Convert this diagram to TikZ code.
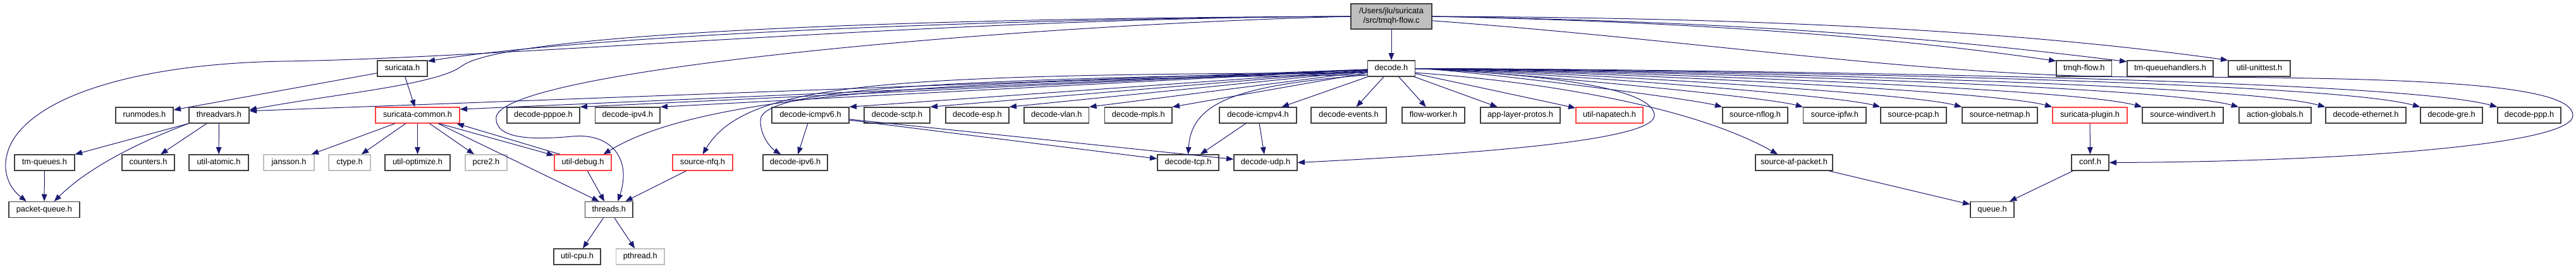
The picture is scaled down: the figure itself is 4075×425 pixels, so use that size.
\documentclass[tikz,border=0pt]{standalone}
\usepackage{fontspec}
\setmainfont{Liberation Sans}
\usepackage{tikz}
\usetikzlibrary{arrows.meta}
\definecolor{depblue}{HTML}{191970}
\definecolor{boxgray}{HTML}{404040}
\definecolor{boxred}{HTML}{FF4040}
\definecolor{boxlight}{HTML}{BFBFBF}
\tikzset{
  hdr/.style={rectangle, draw=boxgray, line width=1pt, fill=white, font=\fontsize{9.6pt}{11.25pt}\selectfont, inner xsep=1pt, inner ysep=0pt, minimum height=18.75pt, text height=7pt, text depth=2pt},
  redhdr/.style={hdr, draw=boxred},
  syshdr/.style={hdr, draw=boxlight},
  srcfile/.style={rectangle, draw=boxgray, line width=1pt, fill=boxlight, align=center, font=\fontsize{9.6pt}{11.25pt}\selectfont, inner sep=1pt, minimum height=30pt}
}

\begin{document}
\begin{tikzpicture}[
    x=0.75pt, y=-0.75pt,
    dep/.style={-{Triangle[length=8.5pt, width=6.5pt]}, draw=depblue, line width=0.75pt}
  ]
    \useasboundingbox (0,0) rectangle (4075,425);

    \node[srcfile, minimum width=96pt] (tmqhc) at (2201, 26) {/Users/jlu/suricata\\/src/tmqh-flow.c};

    \node[hdr, minimum width=59.3pt] (suricata) at (636.5, 108.5) {suricata.h};
    \node[hdr, minimum width=55.9pt] (decode) at (2201, 108.5) {decode.h};
    \node[hdr, minimum width=65.6pt] (tmqhflow) at (3296.8, 108.5) {tmqh-flow.h};
    \node[hdr, minimum width=102pt] (tmqueue) at (3433, 108.5) {tm-queuehandlers.h};
    \node[hdr, minimum width=73.5pt] (unittest) at (3574, 108.5) {util-unittest.h};

    \node[hdr, minimum width=68.3pt] (runmodes) at (228.5, 182.5) {runmodes.h};
    \node[hdr, minimum width=71.3pt] (threadvars) at (346.5, 182.5) {threadvars.h};
    \node[redhdr, minimum width=99.8pt] (common) at (660.5, 182.5) {suricata-common.h};
    \node[hdr, minimum width=86.3pt] (pppoe) at (859.5, 182.5) {decode-pppoe.h};
    \node[hdr, minimum width=76.9pt] (ipv4) at (992.8, 182.5) {decode-ipv4.h};
    \node[hdr, minimum width=91.5pt] (icmpv6) at (1282, 182.5) {decode-icmpv6.h};
    \node[hdr, minimum width=78pt] (sctp) at (1419, 182.5) {decode-sctp.h};
    \node[hdr, minimum width=75pt] (esp) at (1546, 182.5) {decode-esp.h};
    \node[hdr, minimum width=76.9pt] (vlan) at (1671.3, 182.5) {decode-vlan.h};
    \node[hdr, minimum width=79.9pt] (mpls) at (1800.8, 182.5) {decode-mpls.h};
    \node[hdr, minimum width=91.5pt] (icmpv4) at (1990, 182.5) {decode-icmpv4.h};
    \node[hdr, minimum width=89.3pt] (events) at (2133.5, 182.5) {decode-events.h};
    \node[hdr, minimum width=74.3pt] (flowworker) at (2267.5, 182.5) {flow-worker.h};
    \node[hdr, minimum width=94.5pt] (applayer) at (2405, 182.5) {app-layer-protos.h};
    \node[redhdr, minimum width=79.5pt] (napatech) at (2546, 182.5) {util-napatech.h};
    \node[hdr, minimum width=77.3pt] (nflog) at (2776.5, 182.5) {source-nflog.h};
    \node[hdr, minimum width=74.3pt] (ipfw) at (2902.3, 182.5) {source-ipfw.h};
    \node[hdr, minimum width=78pt] (pcap) at (3027, 182.5) {source-pcap.h};
    \node[hdr, minimum width=89.3pt] (netmap) at (3163.5, 182.5) {source-netmap.h};
    \node[redhdr, minimum width=88.5pt] (plugin) at (3306, 182.5) {suricata-plugin.h};
    \node[hdr, minimum width=96pt] (windivert) at (3453, 182.5) {source-windivert.h};
    \node[hdr, minimum width=85.5pt] (actglobals) at (3598.8, 182.5) {action-globals.h};
    \node[hdr, minimum width=95.3pt] (ethernet) at (3742.5, 182.5) {decode-ethernet.h};
    \node[hdr, minimum width=73.5pt] (gre) at (3878, 182.5) {decode-gre.h};
    \node[hdr, minimum width=75pt] (ppp) at (4001, 182.5) {decode-ppp.h};

    \node[hdr, minimum width=71.3pt] (tmqueues) at (70.5, 257.5) {tm-queues.h};
    \node[hdr, minimum width=62.3pt] (counters) at (234.5, 257.5) {counters.h};
    \node[hdr, minimum width=70.5pt] (atomic) at (346, 257.5) {util-atomic.h};
    \node[syshdr, minimum width=60pt] (jansson) at (457, 257.5) {jansson.h};
    \node[syshdr, minimum width=49.5pt] (ctype) at (553, 257.5) {ctype.h};
    \node[hdr, minimum width=77.3pt] (optimize) at (660.5, 257.5) {util-optimize.h};
    \node[syshdr, minimum width=49.5pt] (pcre) at (769, 257.5) {pcre2.h};
    \node[redhdr, minimum width=67.5pt] (debug) at (922, 257.5) {util-debug.h};
    \node[redhdr, minimum width=71.3pt] (nfq) at (1111.5, 257.5) {source-nfq.h};
    \node[hdr, minimum width=76.5pt] (ipv6) at (1258, 257.5) {decode-ipv6.h};
    \node[hdr, minimum width=72.8pt] (tcp) at (1879.5, 257.5) {decode-tcp.h};
    \node[hdr, minimum width=75pt] (udp) at (2002, 257.5) {decode-udp.h};
    \node[hdr, minimum width=91.5pt] (afpacket) at (2838, 257.5) {source-af-packet.h};
    \node[hdr, minimum width=44.3pt] (conf) at (3306.5, 257.5) {conf.h};

    \node[hdr, minimum width=84pt] (pktqueue) at (70, 332) {packet-queue.h};
    \node[hdr, minimum width=56.6pt] (threads) at (963.3, 332) {threads.h};
    \node[hdr, minimum width=51.8pt] (queue) at (3151.5, 332) {queue.h};

    \node[hdr, minimum width=55.5pt] (cpu) at (913, 406.5) {util-cpu.h};
    \node[syshdr, minimum width=57.4pt] (pthread) at (1012.8, 406.5) {pthread.h};

    \draw[dep] (tmqhc) -- (decode);
    \draw[dep] (tmqhc.west) .. controls (1500,30) and (900,60) .. (suricata.16);
    \draw[dep] (tmqhc.west) .. controls (1500,28) and (800,50) .. (730,105) .. controls (690,135) and (520,150) .. (threadvars.10);
    \draw[dep] (tmqhc.west) .. controls (1500,28) and (800,92) .. (450,97) .. controls (250,100) and (80,140) .. (25,215) .. controls (0,250) and (5,290) .. (pktqueue.155);
    \draw[dep] (tmqhc.west) .. controls (1600,40) and (800,110) .. (785,185) .. controls (782,220) and (840,222) .. (905,216) .. controls (965,210) and (1000,250) .. (threads.43);
    \draw[dep] (tmqhc.east) .. controls (2700,35) and (3000,60) .. (tmqhflow.165);
    \draw[dep] (tmqhc.east) .. controls (2800,35) and (3100,65) .. (tmqueue.171);
    \draw[dep] (tmqhc.east) .. controls (2800,28) and (3200,50) .. (unittest.north west);
    \draw[dep] (tmqhc.-6) .. controls (2700,65) and (3050,122) .. (3400,122) .. controls (3850,122) and (4070,135) .. (4070,183) .. controls (4070,230) and (3700,256) .. (conf.east);

    \draw[dep] (decode) -- (threadvars.8);
    \draw[dep] (decode) -- (common.8);
    \foreach \dst in {pppoe, ipv4, icmpv6, sctp, esp, vlan, mpls}
      \draw[dep] (decode) -- (\dst.north east);
    \foreach \dst in {icmpv4, events, flowworker, applayer, napatech}
      \draw[dep] (decode) -- (\dst);
    \foreach \dst/\xx in {nflog/2725, ipfw/2852.6, pcap/2975, netmap/3104, plugin/3247, windivert/3389, actglobals/3541.6, ethernet/3679, gre/3829, ppp/3951}
      \draw[dep] (decode.east) .. controls ({2238+0.12*(\xx-2238)},108.5) and ({\xx-0.11*(\xx-2238)},{170-0.03*(\xx-2238)}) .. (\dst.north west);
    \draw[dep] (decode.195) .. controls (1450,125) and (1100,155) .. (debug.22);
    \draw[dep] (decode.190) .. controls (1400,118) and (1180,130) .. (nfq.north);
    \draw[dep] (decode.190) .. controls (1500,125) and (1205,140) .. (1203,190) .. controls (1202,215) and (1220,235) .. (ipv6.150);
    \draw[dep] (decode.195) .. controls (1960,135) and (1885,160) .. (tcp.north);
    \draw[dep] (decode.east) .. controls (2450,118) and (2617,140) .. (2617,183) .. controls (2617,225) and (2300,245) .. (udp.east);
    \draw[dep] (decode.-10) .. controls (2450,130) and (2680,170) .. (afpacket.153);

    \draw[dep] (suricata) -- (runmodes);
    \draw[dep] (suricata) -- (common);
    \foreach \dst in {tmqueues, counters, atomic}
      \draw[dep] (threadvars) -- (\dst);
    \draw[dep] (threadvars.south west) .. controls (220,225) and (140,265) .. (pktqueue.40);
    \draw[dep] (tmqueues) -- (pktqueue);
    \foreach \dst in {jansson, ctype, optimize, pcre}
      \draw[dep] (common) -- (\dst);
    \draw[dep] (common.-22) -- (threads.140);
    \draw[dep] (common.-21) -- (debug.166);
    \draw[dep] (debug.160) -- (common.-12.5);
    \draw[dep] (debug) -- (threads);
    \draw[dep] (nfq) -- (threads);
    \foreach \dst in {cpu, pthread}
      \draw[dep] (threads) -- (\dst);
    \foreach \dst in {ipv6, tcp, udp}
      \draw[dep] (icmpv6) -- (\dst);
    \foreach \dst in {tcp, udp}
      \draw[dep] (icmpv4) -- (\dst);
    \draw[dep] (plugin) -- (conf);
    \draw[dep] (conf) -- (queue);
    \draw[dep] (afpacket) -- (queue);
  \end{tikzpicture}
\end{document}
